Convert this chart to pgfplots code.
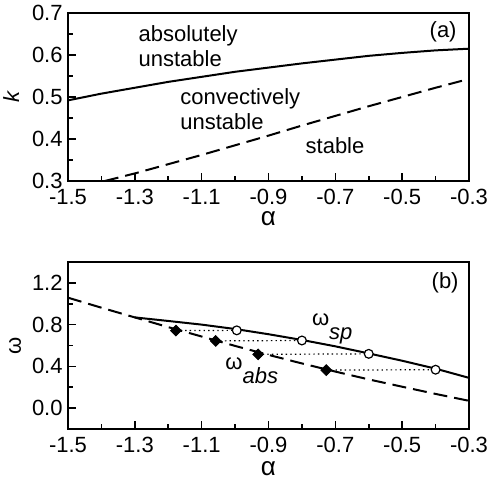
\documentclass[border=0pt]{standalone}
\usepackage{pgfplots}
\pgfplotsset{compat=1.18}
\usepackage{fontspec}
\setmainfont{Liberation Sans}

\pgfplotsset{
  panel/.style={
    scale only axis, width=200.5pt, anchor=south west,
    xmin=-1.5, xmax=-0.3,
    xtick={-1.5,-1.3,-1.1,-0.9,-0.7,-0.5,-0.3},
    minor x tick num=1, minor y tick num=1,
    tick pos=left, tick align=inside,
    major tick length=4pt, minor tick length=2.5pt,
    axis line style={line width=1pt},
    every tick/.style={black, line width=0.8pt},
    /pgf/number format/assume math mode=true,
    /pgf/number format/fixed, /pgf/number format/fixed zerofill,
    /pgf/number format/precision=1,
    xticklabel style={anchor=base, inner sep=0pt, yshift=-12pt},
    yticklabel style={anchor=east, inner sep=0pt, xshift=-2.5pt},
    xlabel={\fontsize{13}{14}\selectfont α},
  },
  dots/.style={black, line width=0.6pt, dash pattern=on 0.7pt off 1.6pt},
}

\begin{document}
\begin{tikzpicture}[font=\fontsize{11}{12.5}\selectfont]
\useasboundingbox (0,0) rectangle (243.5pt,240pt);

% (a)
\begin{axis}[panel, at={(34pt,149.5pt)}, height=84pt,
  ymin=0.3, ymax=0.7, ytick={0.3,0.4,0.5,0.6,0.7},
  ylabel={\itshape k},
  ylabel style={at={(axis description cs:-0.142,0.5)}, anchor=center},
  xlabel style={at={(axis description cs:0.5,0)}, anchor=base, inner sep=0pt, yshift=-22.5pt}]
\addplot[black, line width=1pt] coordinates {
  (-1.5,0.492) (-1.4,0.508) (-1.3,0.522) (-1.2,0.536) (-1.1,0.548)
  (-1.0,0.560) (-0.9,0.570) (-0.8,0.580) (-0.7,0.589) (-0.6,0.598)
  (-0.5,0.605) (-0.4,0.611) (-0.3,0.615)};
\addplot[black, line width=1pt, dash pattern=on 7pt off 3.5pt] coordinates {
  (-1.39,0.300) (-1.3,0.318) (-1.2,0.340) (-1.1,0.362) (-1.0,0.385)
  (-0.9,0.408) (-0.8,0.432) (-0.7,0.455) (-0.6,0.478) (-0.5,0.500)
  (-0.4,0.522) (-0.3,0.543)};
\node[anchor=west, align=left, inner sep=0pt] at (axis cs:-1.29,0.620) {absolutely\\unstable};
\node[anchor=west, align=left, inner sep=0pt] at (axis cs:-1.165,0.472) {convectively\\unstable};
\node[anchor=west, inner sep=0pt] at (axis cs:-0.79,0.384) {stable};
\node[anchor=east, inner sep=0pt] at (axis cs:-0.336,0.656) {(a)};
\end{axis}

% (b)
\begin{axis}[panel, at={(34pt,25.5pt)}, height=83.5pt,
  ymin=-0.2, ymax=1.4, ytick={0,0.4,0.8,1.2},
  ylabel={ω},
  ylabel style={at={(axis description cs:-0.132,0.5)}, anchor=center},
  xlabel style={at={(axis description cs:0.5,0)}, anchor=base, inner sep=0pt, yshift=-23.5pt}]
\addplot[black, line width=1pt] coordinates {
  (-1.3,0.869) (-1.2,0.835) (-1.1,0.800) (-1.0,0.758) (-0.9,0.708)
  (-0.8,0.653) (-0.7,0.592) (-0.6,0.524) (-0.5,0.454) (-0.4,0.378)
  (-0.3,0.290)};
\addplot[black, line width=1pt, dash pattern=on 7pt off 3.5pt] coordinates {
  (-1.5,1.058) (-1.4,0.962) (-1.3,0.869) (-1.2,0.776) (-1.1,0.686)
  (-1.0,0.596) (-0.9,0.510) (-0.8,0.428) (-0.7,0.350) (-0.6,0.275)
  (-0.5,0.205) (-0.4,0.136) (-0.3,0.070)};
\addplot[dots] coordinates {(-1.177,0.743) (-0.995,0.745)};
\addplot[dots] coordinates {(-1.058,0.644) (-0.800,0.648)};
\addplot[dots] coordinates {(-0.931,0.515) (-0.600,0.520)};
\addplot[dots] coordinates {(-0.727,0.364) (-0.400,0.368)};
\addplot[only marks, mark=square*, mark size=1.9pt,
  mark options={rotate=45, fill=black, draw=black}] coordinates {
  (-1.177,0.743) (-1.058,0.644) (-0.931,0.515) (-0.727,0.364)};
\addplot[only marks, mark=*, mark size=2.2pt,
  mark options={fill=white, draw=black, line width=0.6pt}] coordinates {
  (-0.995,0.745) (-0.800,0.648) (-0.600,0.520) (-0.400,0.368)};
\node[anchor=north west, inner sep=0pt] at (axis cs:-0.771,0.905) {ω\raisebox{-1.2ex}{\itshape sp}};
\node[anchor=north west, inner sep=0pt] at (axis cs:-1.03,0.49) {ω\raisebox{-1.2ex}{\itshape abs}};
\node[anchor=east, inner sep=0pt] at (axis cs:-0.33,1.20) {(b)};
\end{axis}
\end{tikzpicture}
\end{document}
